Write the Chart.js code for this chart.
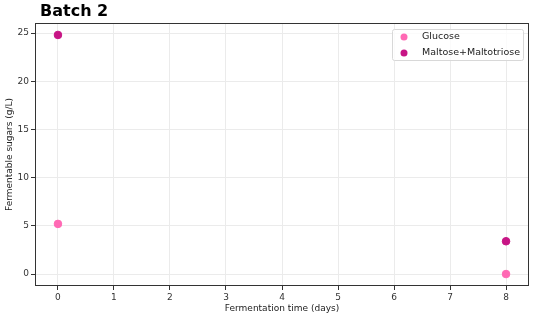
<!DOCTYPE html>
<html>
<head>
<meta charset="utf-8">
<script src="https://cdn.jsdelivr.net/npm/chart.js@4"></script>
<style>
html,body{margin:0;padding:0;background:#fff;}
#wrap{width:544px;height:332px;position:relative;}
</style>
</head>
<body>
<div id="wrap"><canvas id="c" width="544" height="332"></canvas></div>
<script>
const titleText = "Batch 2";
const xTitle = "Fermentation time (days)";
const yTitle = "Fermentable sugars (g/L)";
const days = [0, 8];
const glucose = [5.2, 0.0];
const maltose = [24.8, 3.4];
const xTicks = [0,1,2,3,4,5,6,7,8];
const yTicks = [0,5,10,15,20,25];
const seriesNames = ["Glucose", "Maltose+Maltotriose"];
const seriesColors = ["#ff69b4", "#c71585"];

const toPts = (xs, ys) => xs.map((x,i)=>({x:x, y:ys[i]}));

const tickFont = {family:"DejaVu Sans", size:9};

const legendPlugin = {
  id:'insideLegend',
  afterDraw(chart){
    const ctx = chart.ctx;
    const ca = chart.chartArea;
    const w = 131, h = 31;
    const x0 = ca.right - 6 - w, y0 = ca.top + 6;
    ctx.save();
    ctx.fillStyle = 'rgba(255,255,255,0.8)';
    ctx.strokeStyle = '#d8d8d8';
    ctx.lineWidth = 1;
    ctx.beginPath();
    ctx.roundRect(x0+0.5, y0+0.5, w, h, 2);
    ctx.fill(); ctx.stroke();
    ctx.font = '9.5px "DejaVu Sans"';
    ctx.textBaseline = 'middle';
    seriesNames.forEach((n,i)=>{
      const yy = y0 + 8 + i*16;
      ctx.fillStyle = seriesColors[i];
      ctx.beginPath(); ctx.arc(x0+12, yy, 3.5, 0, Math.PI*2); ctx.fill();
      ctx.fillStyle = '#222';
      ctx.fillText(n, x0+30, yy);
    });
    ctx.font = 'bold 16px "DejaVu Sans"';
    ctx.fillStyle = '#000';
    ctx.textBaseline = 'alphabetic';
    ctx.fillText(titleText, 40, 16);
    ctx.restore();
  }
};

const frame = {
  id:'frame',
  afterDatasetsDraw(chart){
    const ctx = chart.ctx, ca = chart.chartArea;
    ctx.save();
    ctx.strokeStyle = '#333';
    ctx.lineWidth = 1;
    ctx.strokeRect(ca.left+0.5, ca.top+0.5, ca.right-ca.left-1, ca.bottom-ca.top-1);
    ctx.restore();
  }
};

new Chart(document.getElementById('c'), {
  type:'scatter',
  data:{datasets:[
    {label:seriesNames[0], data:toPts(days, glucose), backgroundColor:seriesColors[0], borderColor:seriesColors[0], pointRadius:3.8, pointHoverRadius:3.8},
    {label:seriesNames[1], data:toPts(days, maltose), backgroundColor:seriesColors[1], borderColor:seriesColors[1], pointRadius:3.8, pointHoverRadius:3.8}
  ]},
  options:{
    responsive:false, animation:false, events:[],
    layout:{padding:{top:23, right:15, left:0, bottom:14}},
    plugins:{legend:{display:false}, tooltip:{enabled:false}, title:{display:false}},
    scales:{
      x:{type:'linear', min:-0.41, max:8.41,
        afterBuildTicks(s){ s.ticks = xTicks.map(v=>({value:v})); },
        afterFit(s){ s.height = 32; },
        grid:{color:'#ebebeb', tickColor:'#333', tickLength:4, drawTicks:true},
        border:{display:false},
        ticks:{font:tickFont, color:'#333', padding:2, maxRotation:0},
        title:{display:true, text:xTitle, font:{family:"DejaVu Sans", size:9}, color:'#222', padding:{top:2}}
      },
      y:{type:'linear', min:-1.24, max:26.04,
        afterBuildTicks(s){ s.ticks = yTicks.map(v=>({value:v})); },
        afterFit(s){ s.width = 35; },
        grid:{color:'#ebebeb', tickColor:'#333', tickLength:4, drawTicks:true},
        border:{display:false},
        ticks:{font:tickFont, color:'#333', padding:2},
        title:{display:true, text:yTitle, font:{family:"DejaVu Sans", size:9}, color:'#222', padding:{bottom:0}}
      }
    }
  },
  plugins:[frame, legendPlugin]
});
</script>
</body>
</html>
